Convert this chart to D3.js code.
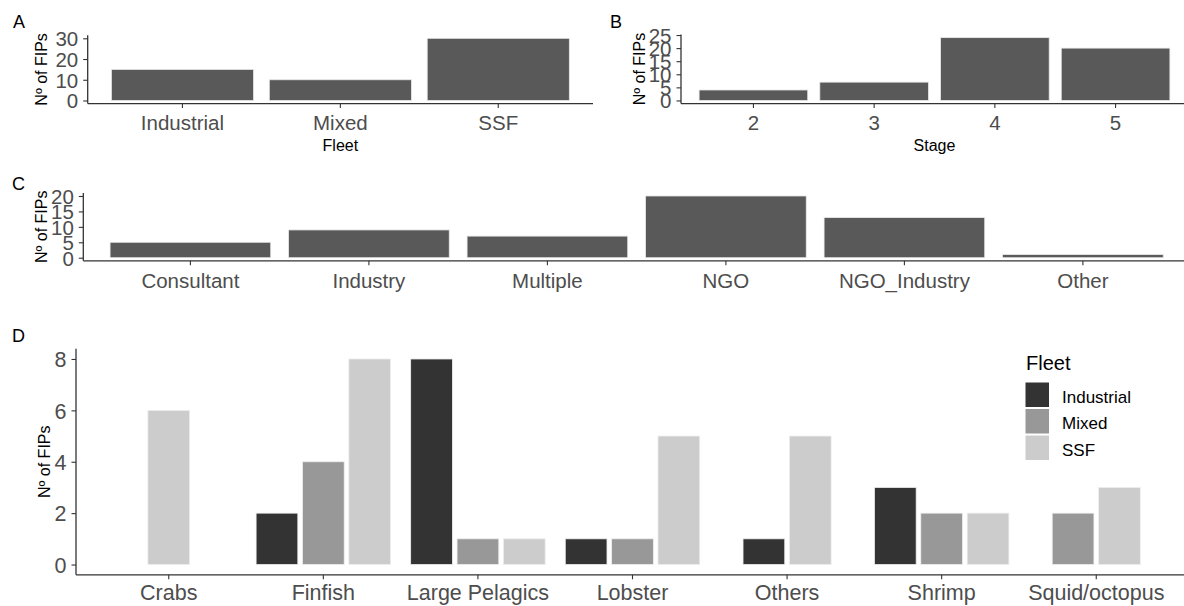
<!DOCTYPE html>
<html>
<head>
<meta charset="utf-8">
<script src="https://cdn.jsdelivr.net/npm/d3@7"></script>
<style>
  html, body { margin: 0; padding: 0; background: #fff; }
  svg { display: block; font-family: "Liberation Sans", Arial, sans-serif; }
</style>
</head>
<body>
<svg id="fig" width="1184" height="606"></svg>
<script>
// ---- data ----
const fleetCats = ["Industrial", "Mixed", "SSF"];
const fleetCounts = [15, 10, 30];
const fleetTicks = [0, 10, 20, 30];

const stageCats = ["2", "3", "4", "5"];
const stageCounts = [4, 7, 24, 20];
const stageTicks = [0, 5, 10, 15, 20, 25];

const leadCats = ["Consultant", "Industry", "Multiple", "NGO", "NGO_Industry", "Other"];
const leadCounts = [5, 9, 7, 20, 13, 1];
const leadTicks = [0, 5, 10, 15, 20];

const speciesCats = ["Crabs", "Finfish", "Large Pelagics", "Lobster", "Others", "Shrimp", "Squid/octopus"];
const industrialBySpecies = [0, 2, 8, 1, 1, 3, 0];
const mixedBySpecies = [0, 4, 1, 1, 0, 2, 2];
const ssfBySpecies = [6, 8, 1, 5, 5, 2, 3];
const speciesTicks = [0, 2, 4, 6, 8];

const fleetColors = ["#333333", "#989898", "#cccccc"];

// ---- helpers ----
const svg = d3.select("#fig");
const AXIS = "#333333";
const TICKTXT = "#4d4d4d";

function bandScale(cats, x0, x1) {
  // ggplot-style discrete axis: 0.6 unit expansion each side, bars 0.9 wide
  return d3.scaleBand().domain(cats).range([x0, x1]).paddingInner(0.1).paddingOuter(0.15);
}
function yScale(maxV, top, bottom) {
  const pad = maxV * 0.05;
  return d3.scaleLinear().domain([-pad, maxV + pad]).range([bottom, top]);
}

function drawAxes(g, x, y, ticks, opt) {
  const [x0, x1] = x.range();
  const [yb, yt] = y.range();
  // y axis
  const ya = g.append("g").attr("transform", `translate(${x0},0)`)
    .call(d3.axisLeft(y).tickValues(ticks).tickSize(4.5).tickPadding(5).tickFormat(d3.format("d")));
  ya.select(".domain").remove();
  ya.selectAll(".tick line").attr("stroke", AXIS).attr("stroke-width", 1.1);
  ya.selectAll(".tick text").attr("fill", TICKTXT).style("font-size", opt.tickSize + "px")
    .attr("dy", "0.36em").attr("font-family", null);
  // x axis
  const xa = g.append("g").attr("transform", `translate(0,${yb})`)
    .call(d3.axisBottom(x).tickSize(4.5).tickPadding(0));
  xa.select(".domain").remove();
  xa.selectAll(".tick line").attr("stroke", AXIS).attr("stroke-width", 1.1);
  xa.selectAll(".tick text").attr("fill", TICKTXT).style("font-size", opt.tickSize + "px")
    .attr("dy", null).attr("y", opt.xLabelOffset).attr("font-family", null);
  g.selectAll(".tick text").attr("font-size", null);
  // axis lines
  g.append("line").attr("x1", x0).attr("x2", x0).attr("y1", yt).attr("y2", yb)
    .attr("stroke", AXIS).attr("stroke-width", 1.3);
  g.append("line").attr("x1", x0).attr("x2", x1).attr("y1", yb).attr("y2", yb)
    .attr("stroke", AXIS).attr("stroke-width", 1.3);
  // y title
  g.append("text")
    .attr("transform", `translate(${opt.yTitleX},${(yb + yt) / 2}) rotate(-90)`)
    .attr("text-anchor", "middle").attr("font-size", 16).attr("fill", "#000")
    .text("Nº of FIPs");
  if (opt.xTitle) {
    g.append("text").attr("x", (x0 + x1) / 2).attr("y", opt.xTitleY)
      .attr("text-anchor", "middle").attr("font-size", 16).attr("fill", "#000")
      .text(opt.xTitle);
  }
}

function panelTag(label, x, y) {
  svg.append("text").attr("x", x).attr("y", y).attr("font-size", 18).attr("fill", "#000").text(label);
}

function simpleBars(cats, counts, ticks, box, opt) {
  const g = svg.append("g");
  const x = bandScale(cats, box.x0, box.x1);
  const y = yScale(d3.max(counts), box.top, box.bottom);
  g.selectAll("rect.bar").data(cats.map((c, i) => ({ c, v: counts[i] })))
    .join("rect").attr("class", "bar")
    .attr("x", d => x(d.c)).attr("width", x.bandwidth())
    .attr("y", d => y(d.v)).attr("height", d => y(0) - y(d.v))
    .attr("fill", "#595959").attr("stroke", "#e8e8e8").attr("stroke-width", 0.8);
  drawAxes(g, x, y, ticks, opt);
}

// ---- A: fleet ----
panelTag("A", 13, 28);
simpleBars(fleetCats, fleetCounts, fleetTicks,
  { x0: 87.7, x1: 593, top: 35.2, bottom: 103.6 },
  { tickSize: 20.5, xLabelOffset: 26, yTitleX: 47, xTitle: "Fleet", xTitleY: 151 });

// ---- B: stage ----
panelTag("B", 610, 28);
simpleBars(stageCats, stageCounts, stageTicks,
  { x0: 681, x1: 1188, top: 34.5, bottom: 103.6 },
  { tickSize: 20.5, xLabelOffset: 26, yTitleX: 645, xTitle: "Stage", xTitleY: 151 });

// ---- C: lead organisation ----
panelTag("C", 12, 190);
simpleBars(leadCats, leadCounts, leadTicks,
  { x0: 83.3, x1: 1190, top: 192.9, bottom: 260.8 },
  { tickSize: 20.5, xLabelOffset: 27, yTitleX: 46.5 });

// ---- D: species group by fleet (dodged) ----
panelTag("D", 12, 342);
(function () {
  const g = svg.append("g");
  const box = { x0: 76, x1: 1189, top: 348.7, bottom: 574.8 };
  const x = bandScale(speciesCats, box.x0, box.x1);
  const series = [industrialBySpecies, mixedBySpecies, ssfBySpecies];
  const maxV = d3.max(series.flat());
  const y = yScale(maxV, box.top, box.bottom);
  const slot = x.bandwidth() / fleetCats.length;
  const bars = [];
  speciesCats.forEach((c, i) => {
    const present = fleetCats.map((f, k) => ({ f, k, v: series[k][i] })).filter(d => d.v > 0);
    const center = x(c) + x.bandwidth() / 2;
    present.forEach((d, j) => {
      const cx = center + (j - (present.length - 1) / 2) * slot;
      bars.push({ c, f: d.f, k: d.k, v: d.v, cx });
    });
  });
  const bw = slot * 0.9;
  g.selectAll("rect.bar").data(bars).join("rect").attr("class", "bar")
    .attr("x", d => d.cx - bw / 2).attr("width", bw)
    .attr("y", d => y(d.v)).attr("height", d => y(0) - y(d.v))
    .attr("fill", d => fleetColors[d.k]).attr("stroke", "#eeeeee").attr("stroke-width", 0.8);
  drawAxes(g, x, y, speciesTicks, { tickSize: 21.5, xLabelOffset: 25.5, yTitleX: 49.5 });

  // legend
  const lg = svg.append("g").attr("transform", "translate(1025,0)");
  lg.append("text").attr("x", 1).attr("y", 370).attr("font-size", 20).attr("fill", "#000").text("Fleet");
  fleetCats.forEach((f, k) => {
    const ky = 382 + k * 26.5;
    lg.append("rect").attr("x", 0).attr("y", ky).attr("width", 24.5).attr("height", 25.5)
      .attr("fill", fleetColors[k]).attr("stroke", "#fff").attr("stroke-width", 1);
    lg.append("text").attr("x", 37).attr("y", ky + 12.75 + 8).attr("font-size", 17)
      .attr("fill", "#000").text(f);
  });
})();
</script>
</body>
</html>
